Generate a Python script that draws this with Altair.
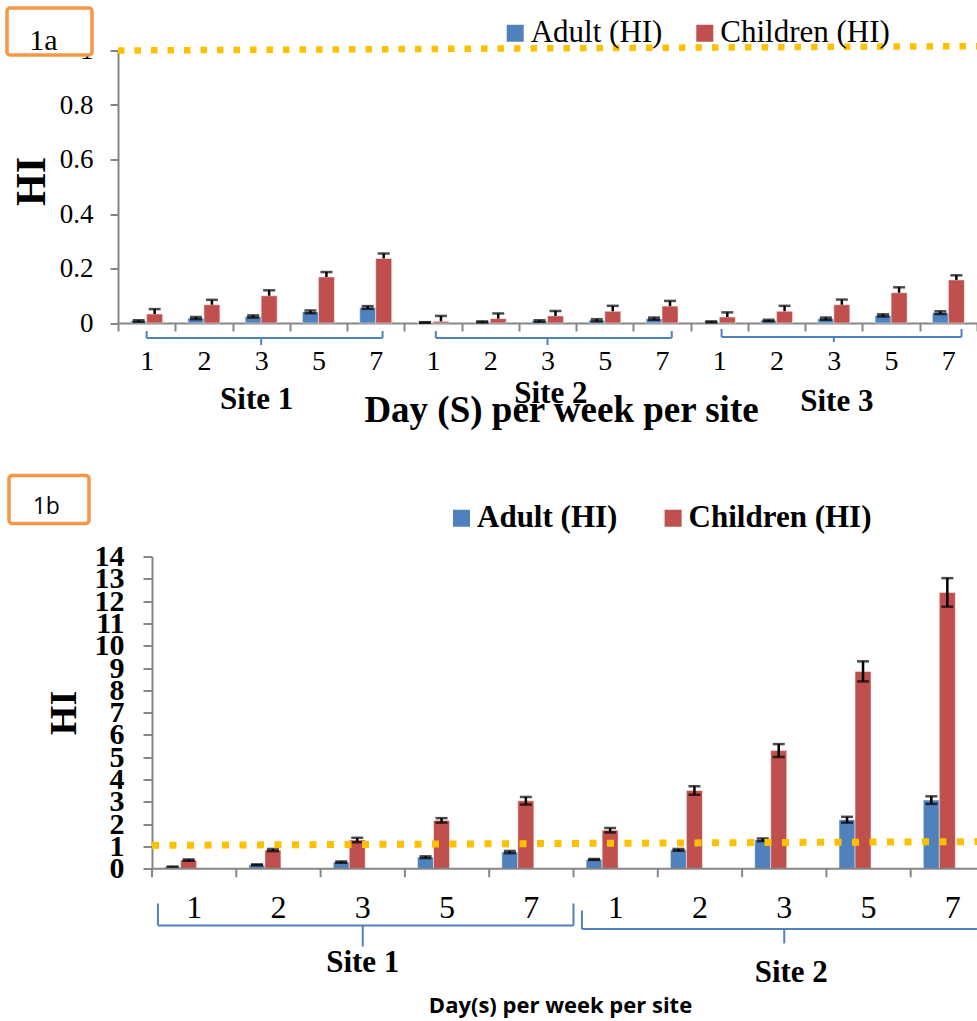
import altair as alt
import pandas as pd

SERIES = ["Adult (HI)", "Children (HI)"]
SERIES_COLORS = ["#4F81BD", "#C0504D"]
DAYS = ["1", "2", "3", "5", "7"]
PANELS = ["1a", "1b"]

# Figure 1a (three sites)
SITES_A = ["Site 1", "Site 2", "Site 3"]
ADULT_A = [0.007, 0.018, 0.024, 0.041, 0.057,
           0.002, 0.004, 0.007, 0.010, 0.016,
           0.004, 0.009, 0.016, 0.028, 0.038]
ADULT_A_ERR = [0.003, 0.004, 0.004, 0.005, 0.005,
               0.001, 0.002, 0.003, 0.004, 0.004,
               0.002, 0.003, 0.004, 0.004, 0.005]
CHILD_A = [0.033, 0.067, 0.100, 0.169, 0.237,
           0.006, 0.016, 0.026, 0.043, 0.062,
           0.022, 0.043, 0.067, 0.111, 0.158]
CHILD_A_ERR = [0.018, 0.018, 0.020, 0.018, 0.018,
               0.020, 0.019, 0.018, 0.020, 0.019,
               0.017, 0.020, 0.019, 0.020, 0.017]
LIMIT_A = [1.0, 1.016]
YTICKS_A = [0, 0.2, 0.4, 0.6, 0.8, 1.0]

# Figure 1b (two sites)
SITES_B = ["Site 1", "Site 2"]
ADULT_B = [0.08, 0.18, 0.30, 0.52, 0.75, 0.42, 0.85, 1.30, 2.20, 3.08]
ADULT_B_ERR = [0.02, 0.02, 0.03, 0.04, 0.05, 0.02, 0.04, 0.06, 0.13, 0.17]
CHILD_B = [0.39, 0.84, 1.29, 2.17, 3.05, 1.73, 3.51, 5.30, 8.85, 12.39]
CHILD_B_ERR = [0.03, 0.05, 0.10, 0.10, 0.17, 0.10, 0.19, 0.29, 0.45, 0.64]
LIMIT_B = [1.05, 1.22]
YTICKS_B = list(range(0, 15))

SERIF = "Liberation Serif"
SANS = "Open Sans"
GRAY = "#868686"
BRACE = "#4F81BD"
GOLD = "#FFC000"
BOXC = "#F79646"


def bar_table(sites, adult, adult_err, child, child_err, child_plus_only):
    rows = []
    k = 0
    for si, site in enumerate(sites):
        for d in DAYS:
            cat = f"S{si + 1}_{d}"
            for ser, v, e in ((SERIES[0], adult[k], adult_err[k]),
                              (SERIES[1], child[k], child_err[k])):
                plus_only = child_plus_only and ser == SERIES[1]
                rows.append({"cat": cat, "site": site, "series": ser, "value": v,
                             "lo": v if plus_only else v - e, "hi": v + e,
                             "lowcap": not plus_only})
            k += 1
    return pd.DataFrame(rows)


def panel(df, sites, limit, label, yticks, S):
    W, H = S["W"], S["H"]
    cats = list(dict.fromkeys(df["cat"]))
    xs = alt.Scale(domain=cats, paddingInner=0, paddingOuter=0, range=S["xrange"])
    ys = alt.Scale(domain=[0, S["ymax"]], nice=False)
    xo = alt.Scale(domain=SERIES, paddingInner=0, paddingOuter=S["xo_pad"])
    cs = alt.Scale(domain=SERIES, range=SERIES_COLORS)
    XO = alt.XOffset("series:N", scale=xo)
    xaxis = alt.Axis(**S["xaxis"])
    yaxis = alt.Axis(**S["yaxis"], values=yticks)

    def X(field="cat", bp=None):
        kw = {}
        if bp is not None:
            kw["bandPosition"] = bp
        return alt.X(f"{field}:N", scale=xs, axis=xaxis, **kw)

    def Y(field):
        return alt.Y(f"{field}:Q", scale=ys, axis=yaxis)

    one = pd.DataFrame({"panel": [label]})

    frame = alt.Chart(one).mark_rect(opacity=0).encode(
        x=alt.value(S["fx"][0]), x2=alt.value(S["fx"][1]),
        y=alt.value(S["fy"][0]), y2=alt.value(S["fy"][1]))

    legend = alt.Legend(orient="none", legendX=S["legX"], legendY=S["legY"],
                        direction="horizontal", title=None, symbolType="square",
                        symbolSize=289, symbolStrokeWidth=0, symbolOpacity=1,
                        labelFont=SERIF, labelFontSize=31,
                        labelFontWeight=S["legW"], labelColor="black",
                        labelOffset=0, columnPadding=S["legPad"], padding=0,
                        offset=0, labelLimit=400)

    bar_kw = dict(stroke="white", strokeWidth=0.8, strokeOpacity=0.6)
    if S.get("clip"):
        bar_kw["clip"] = True
    bars = alt.Chart(df).mark_bar(**bar_kw).encode(
        x=X(), xOffset=XO, y=Y("value"),
        color=alt.Color("series:N", scale=cs, legend=legend))

    err = alt.Chart(df).mark_rule(color="black", strokeWidth=2.5).encode(
        x=X(), xOffset=XO, y=Y("lo"), y2=alt.Y2("hi"))
    cap_hi = alt.Chart(df).mark_tick(color="black", thickness=2.5, size=12).encode(
        x=X(), xOffset=XO, y=Y("hi"))
    cap_lo = alt.Chart(df).transform_filter(alt.datum.lowcap).mark_tick(
        color="black", thickness=2.5, size=12).encode(
        x=X(), xOffset=XO, y=Y("lo"))

    lim = alt.Chart(pd.DataFrame({"y": [limit[0]], "y2": [limit[1]]})).mark_rule(
        color=GOLD, strokeWidth=S["dotW"], strokeDash=S["dash"], strokeCap="butt").encode(
        x=alt.value(S["xrange"][0]), x2=alt.value(W),
        y=Y("y"), y2=alt.Y2("y2"))

    layers = [frame, bars, err, cap_hi, cap_lo, lim]

    for i, site in enumerate(sites):
        b = S["brackets"][i]
        sd = pd.DataFrame([{"site": site, "start": f"S{i + 1}_{DAYS[0]}",
                            "mid": f"S{i + 1}_{DAYS[2]}", "end": f"S{i + 1}_{DAYS[-1]}"}])
        base = alt.Chart(sd)
        layers.append(base.mark_rule(color=BRACE, strokeWidth=2).encode(
            x=X("start", b["s"]), x2=alt.X2(field="end", bandPosition=b["e"]),
            y=alt.value(b["h"])))
        layers.append(base.mark_rule(color=BRACE, strokeWidth=2).encode(
            x=X("start", b["s"]), y=alt.value(b["top"]), y2=alt.value(b["h"])))
        if b.get("end_up", True):
            layers.append(base.mark_rule(color=BRACE, strokeWidth=2).encode(
                x=X("end", b["e"]), y=alt.value(b["top"]), y2=alt.value(b["h"])))
        layers.append(base.mark_rule(color=BRACE, strokeWidth=2).encode(
            x=X("mid", 0.5), y=alt.value(b["h"]), y2=alt.value(b["m"])))
        layers.append(base.mark_text(font=SERIF, fontSize=31, fontWeight="bold",
                                     color="black", align="center", baseline="alphabetic",
                                     dx=b["dx"]).encode(
            x=X("mid", 0.5), y=alt.value(b["ty"]), text="site:N"))

    if S.get("manual_ticks"):
        tk = pd.DataFrame({"cat": cats})
        layers.append(alt.Chart(tk).mark_rule(color=GRAY, strokeWidth=2).encode(
            x=X("cat", 0), y=alt.value(H), y2=alt.value(H + 8.4)))
        layers.append(alt.Chart(one).mark_rule(color=GRAY, strokeWidth=2).encode(
            x=alt.value(0), x2=alt.value(W), y=alt.value(H)))

    bx = S["box"]
    layers.append(alt.Chart(one).mark_rect(fill="white", stroke=BOXC, strokeWidth=3.5,
                                           cornerRadius=3).encode(
        x=alt.value(bx[0]), x2=alt.value(bx[1]), y=alt.value(bx[2]), y2=alt.value(bx[3])))
    bt = S["boxtext"]
    layers.append(alt.Chart(one).mark_text(font=bt["font"], fontSize=bt["size"],
                                           color="black", align="center",
                                           baseline="alphabetic").encode(
        x=alt.value(bt["x"]), y=alt.value(bt["y"]), text="panel:N"))

    return alt.layer(*layers).properties(width=W, height=H)


common_axis = dict(domainColor=GRAY, domainWidth=2, tickColor=GRAY, tickWidth=2,
                   labelColor="black", titleColor="black", grid=False, zindex=0)

# both panels share the plot origin at x = 152 px from the left of the page
SA = dict(
    W=825, H=272.5, ymax=1.0, xo_pad=0.79, xrange=[-34, 825],
    fx=[-152, 825], fy=[-50.5, 399.5],
    legX=347.7, legY=-33, legW="normal", legPad=26.6,
    dotW=6.5, dash=[6.5, 10],
    xaxis=dict(common_axis, title="Day (S) per week per site", titleFont=SERIF,
               titleFontSize=37, titleFontWeight="bold", titleX=409, titleY=98.7,
               titleAlign="center", titleBaseline="alphabetic",
               labelExpr="substring(datum.label, 3)", labelFont=SERIF, labelFontSize=28,
               labelAngle=0, labelAlign="center", labelBaseline="alphabetic",
               labelPadding=38, tickBand="extent", tickSize=8),
    yaxis=dict(common_axis, offset=34, format="~g", labelFont=SERIF, labelFontSize=27,
               labelPadding=17, tickSize=8, labelOverlap=False,
               title="HI", titleFont=SERIF, titleFontSize=42, titleFontWeight="bold",
               titleX=-87, titleY=130.5, titleAngle=270, titleAlign="center",
               titleBaseline="middle"),
    brackets=[
        dict(s=0.5, e=0.62, top=280.5, h=287.5, m=294.5, ty=358.8, dx=-4.5),
        dict(s=0.55, e=0.67, top=280.5, h=287.5, m=294.5, ty=352.2, dx=3.4),
        dict(s=0.54, e=0.73, top=278.5, h=286.5, m=291.5, ty=360.5, dx=3),
    ],
    box=[-145, -60, -42.5, 4.5],
    boxtext=dict(font=SERIF, size=30, x=-108.5, y=-0.5),
)

SB = dict(
    W=825, H=312.3, ymax=14, xo_pad=0.72, xrange=[0, 843],
    fx=[-152, 825], fy=[-106, 465],
    clip=True, manual_ticks=True,
    legX=294, legY=-54, legW="bold", legPad=39.6,
    dotW=7, dash=[7, 10.5],
    xaxis=dict(common_axis, domain=False, ticks=False, tickSize=0,
               title="Day(s) per week per site", titleFont=SANS, titleFontSize=22,
               titleFontWeight="bold", titleX=408, titleY=143.4, titleAlign="center",
               titleBaseline="alphabetic",
               labelExpr="substring(datum.label, 3)", labelFont=SERIF, labelFontSize=32,
               labelAngle=0, labelAlign="center", labelBaseline="alphabetic",
               labelPadding=48.4),
    yaxis=dict(common_axis, labelFont=SERIF, labelFontSize=30, labelFontWeight="bold",
               labelPadding=19, tickSize=9, labelOverlap=False,
               title="HI", titleFont=SERIF, titleFontSize=38, titleFontWeight="bold",
               titleX=-88, titleY=156, titleAngle=270, titleAlign="center",
               titleBaseline="middle"),
    brackets=[
        dict(s=0.07, e=1.0, top=347, h=369, m=390, ty=415, dx=0),
        dict(s=0.1, e=0.786, top=354, h=372.5, m=387, ty=425.7, dx=7, end_up=False),
    ],
    box=[-143, -63, -81, -33],
    boxtext=dict(font=SANS, size=23, x=-105.7, y=-42.7),
)

df_a = bar_table(SITES_A, ADULT_A, ADULT_A_ERR, CHILD_A, CHILD_A_ERR, True)
df_b = bar_table(SITES_B, ADULT_B, ADULT_B_ERR, CHILD_B, CHILD_B_ERR, False)

chart_a = panel(df_a, SITES_A, LIMIT_A, PANELS[0], YTICKS_A, SA)
chart_b = panel(df_b, SITES_B, LIMIT_B, PANELS[1], YTICKS_B, SB)

# fixed page: origin of the first panel at (152, 50.5); view width 825 + padding = 977
chart = alt.vconcat(chart_a, chart_b, spacing=0).resolve_scale(
    color="independent").resolve_legend(color="independent").properties(
    autosize=alt.AutoSizeParams(type="none"),
    padding={"left": 152, "top": 50.5, "right": 0, "bottom": 970.5},
    background="white").configure_view(stroke=None)

chart.save("out.html", embed_options={"renderer": "svg", "actions": False})
